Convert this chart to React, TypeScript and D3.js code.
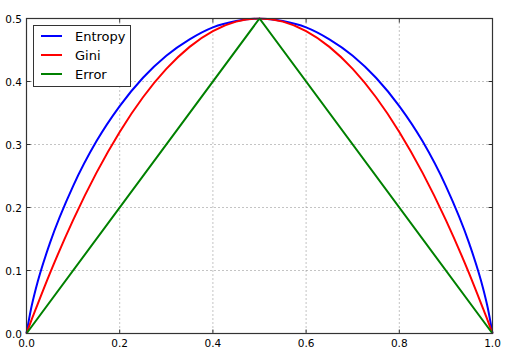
import React from "react";
import * as d3 from "d3";

const pValues = [0, 0.01, 0.02, 0.05, 0.1, 0.15, 0.2, 0.25, 0.3, 0.35, 0.4, 0.45, 0.5, 0.55, 0.6, 0.65, 0.7, 0.75, 0.8, 0.85, 0.9, 0.95, 0.98, 0.99, 1];
const entropyValues = [0, 0.040, 0.071, 0.143, 0.234, 0.305, 0.361, 0.406, 0.441, 0.467, 0.486, 0.496, 0.5, 0.496, 0.486, 0.467, 0.441, 0.406, 0.361, 0.305, 0.234, 0.143, 0.071, 0.040, 0];
const giniValues = [0, 0.020, 0.039, 0.095, 0.18, 0.255, 0.32, 0.375, 0.42, 0.455, 0.48, 0.495, 0.5, 0.495, 0.48, 0.455, 0.42, 0.375, 0.32, 0.255, 0.18, 0.095, 0.039, 0.020, 0];
const errorP = [0, 0.5, 1];
const errorValues = [0, 0.5, 0];

const xTicks = [0, 0.2, 0.4, 0.6, 0.8, 1.0];
const yTicks = [0, 0.1, 0.2, 0.3, 0.4, 0.5];

const seriesNames = ["Entropy", "Gini", "Error"];
const seriesColors = ["#0000ff", "#ff0000", "#008000"];

export default function App() {
  const W = 526, H = 354;
  const left = 26.5, right = 492.5, top = 18.5, bottom = 333.5;
  const x = d3.scaleLinear().domain([0, 1]).range([left, right]);
  const y = d3.scaleLinear().domain([0, 0.5]).range([bottom, top]);
  const curve = d3.line<[number, number]>().x(d => x(d[0])).y(d => y(d[1])).curve(d3.curveMonotoneX);
  const straight = d3.line<[number, number]>().x(d => x(d[0])).y(d => y(d[1]));

  const entropyPath = curve(pValues.map((p, i) => [p, entropyValues[i]]))!;
  const giniPath = curve(pValues.map((p, i) => [p, giniValues[i]]))!;
  const errorPath = straight(errorP.map((p, i) => [p, errorValues[i]]))!;
  const paths = [entropyPath, giniPath, errorPath];

  const font = "DejaVu Sans, sans-serif";
  return (
    <svg width={W} height={H} style={{ position: "absolute", left: 0, top: 0, background: "#fff" }}>
      <rect x={0} y={0} width={W} height={H} fill="#fff" />
      {/* grid */}
      {xTicks.slice(1, -1).map(t => (
        <line key={"gx" + t} x1={x(t)} x2={x(t)} y1={top} y2={bottom} stroke="#888" strokeWidth={1} strokeDasharray="1,3" />
      ))}
      {yTicks.slice(1, -1).map(t => (
        <line key={"gy" + t} x1={left} x2={right} y1={y(t)} y2={y(t)} stroke="#888" strokeWidth={1} strokeDasharray="1,3" />
      ))}
      {/* lines */}
      <g clipPath="url(#clip)">
        {paths.map((d, i) => (
          <path key={i} d={d} fill="none" stroke={seriesColors[i]} strokeWidth={2} />
        ))}
      </g>
      <defs>
        <clipPath id="clip">
          <rect x={left - 2} y={top - 1} width={right - left + 4} height={bottom - top + 2} />
        </clipPath>
      </defs>
      {/* ticks inward */}
      {xTicks.map(t => (
        <g key={"tx" + t}>
          <line x1={x(t)} x2={x(t)} y1={bottom} y2={bottom - 4} stroke="#000" strokeWidth={0.8} />
          <line x1={x(t)} x2={x(t)} y1={top} y2={top + 4} stroke="#000" strokeWidth={0.8} />
          <text x={x(t)} y={347} textAnchor="middle" fontFamily={font} fontSize={10.5} fill="#000">{d3.format(".1f")(t)}</text>
        </g>
      ))}
      {yTicks.map(t => (
        <g key={"ty" + t}>
          <line x1={left} x2={left + 4} y1={y(t)} y2={y(t)} stroke="#000" strokeWidth={0.8} />
          <line x1={right} x2={right - 4} y1={y(t)} y2={y(t)} stroke="#000" strokeWidth={0.8} />
          <text x={22} y={y(t) + 4} textAnchor="end" fontFamily={font} fontSize={10.5} fill="#000">{d3.format(".1f")(t)}</text>
        </g>
      ))}
      {/* frame */}
      <rect x={left} y={top} width={right - left} height={bottom - top} fill="none" stroke="#333" strokeWidth={1.2} />
      {/* legend */}
      <rect x={33.5} y={25.5} width={97} height={61} fill="#fff" stroke="#333" strokeWidth={1} />
      {seriesNames.map((n, i) => (
        <g key={n}>
          <line x1={41} x2={62} y1={36 + i * 19} y2={36 + i * 19} stroke={seriesColors[i]} strokeWidth={2} />
          <text x={75} y={40.5 + i * 19} fontFamily={font} fontSize={13} fill="#000">{n}</text>
        </g>
      ))}
    </svg>
  );
}
